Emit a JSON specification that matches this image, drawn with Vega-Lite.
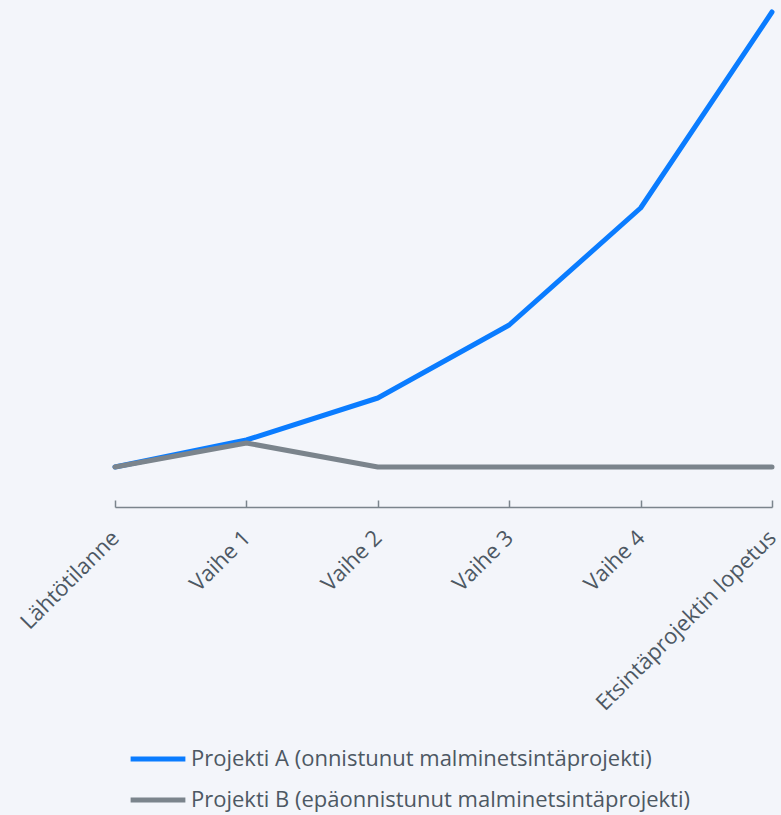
{
  "$schema": "https://vega.github.io/schema/vega-lite/v6.json",
  "autosize": "none",
  "width": 657,
  "height": 500,
  "padding": {"left": 115, "top": 7, "right": 9, "bottom": 308},
  "background": "#f3f5fa",
  "config": {
    "view": {"stroke": null},
    "font": "Open Sans"
  },
  "data": {
    "values": [
      {"vaihe": "Lähtötilanne", "projekti": "Projekti A (onnistunut malminetsintäprojekti)", "arvo": 40},
      {"vaihe": "Vaihe 1", "projekti": "Projekti A (onnistunut malminetsintäprojekti)", "arvo": 67},
      {"vaihe": "Vaihe 2", "projekti": "Projekti A (onnistunut malminetsintäprojekti)", "arvo": 109},
      {"vaihe": "Vaihe 3", "projekti": "Projekti A (onnistunut malminetsintäprojekti)", "arvo": 182},
      {"vaihe": "Vaihe 4", "projekti": "Projekti A (onnistunut malminetsintäprojekti)", "arvo": 299},
      {"vaihe": "Etsintäprojektin lopetus", "projekti": "Projekti A (onnistunut malminetsintäprojekti)", "arvo": 495},
      {"vaihe": "Lähtötilanne", "projekti": "Projekti B (epäonnistunut malminetsintäprojekti)", "arvo": 40},
      {"vaihe": "Vaihe 1", "projekti": "Projekti B (epäonnistunut malminetsintäprojekti)", "arvo": 64},
      {"vaihe": "Vaihe 2", "projekti": "Projekti B (epäonnistunut malminetsintäprojekti)", "arvo": 40},
      {"vaihe": "Vaihe 3", "projekti": "Projekti B (epäonnistunut malminetsintäprojekti)", "arvo": 40},
      {"vaihe": "Vaihe 4", "projekti": "Projekti B (epäonnistunut malminetsintäprojekti)", "arvo": 40},
      {"vaihe": "Etsintäprojektin lopetus", "projekti": "Projekti B (epäonnistunut malminetsintäprojekti)", "arvo": 40}
    ]
  },
  "mark": {"type": "line", "strokeWidth": 5, "strokeCap": "round", "strokeJoin": "round"},
  "encoding": {
    "x": {
      "field": "vaihe",
      "type": "ordinal",
      "sort": null,
      "scale": {"type": "point", "padding": 0},
      "axis": {
        "title": null,
        "labelAngle": -45,
        "labelAlign": "right",
        "labelBaseline": "middle",
        "labelFontSize": 22,
        "labelColor": "#4d5863",
        "labelPadding": 34,
        "labelLimit": 400,
        "tickSize": -7,
        "tickColor": "#7b848c",
        "tickWidth": 1.5,
        "domainColor": "#7b848c",
        "domainWidth": 1.5,
        "grid": false
      }
    },
    "y": {
      "field": "arvo",
      "type": "quantitative",
      "scale": {"domain": [0, 500]},
      "axis": null
    },
    "color": {
      "field": "projekti",
      "type": "nominal",
      "scale": {"range": ["#0a7cff", "#7b848c"]},
      "legend": {
        "title": null,
        "orient": "none",
        "legendX": 13,
        "legendY": 722,
        "direction": "vertical",
        "symbolType": "stroke",
        "symbolSize": 3000,
        "symbolStrokeWidth": 5,
        "labelFontSize": 22,
        "labelColor": "#4d5863",
        "labelOffset": 3,
        "rowPadding": -11,
        "labelLimit": 600
      }
    }
  }
}
